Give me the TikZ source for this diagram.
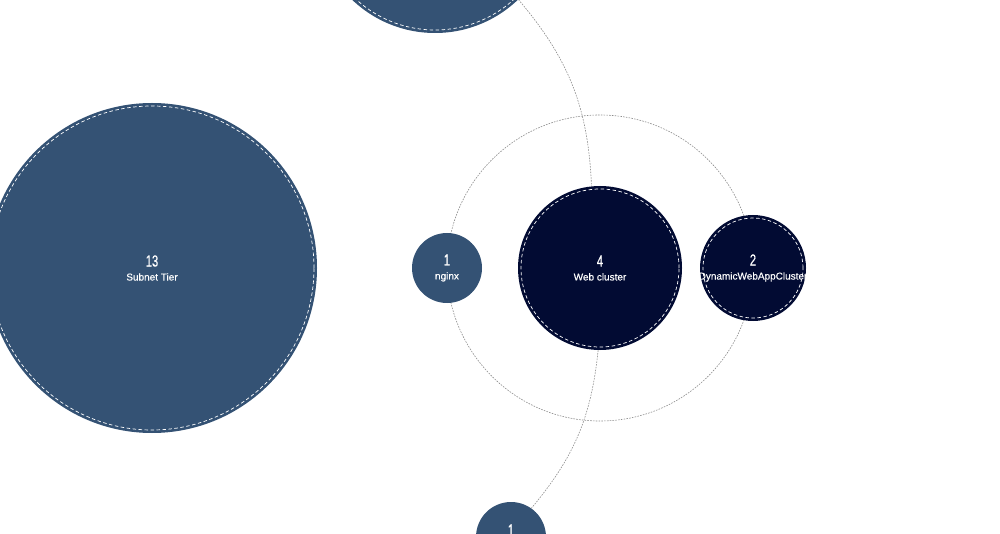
\documentclass[tikz,border=0pt]{standalone}
\usepackage{fontspec}
\setmainfont{Liberation Sans}[FakeBold=0.35]
\newfontfamily\numfont[FakeStretch=0.7,FakeBold=0.6]{Liberation Sans}
\definecolor{tierblue}{HTML}{345274}
\definecolor{clusternavy}{HTML}{020B33}
\newcommand{\cnt}[1]{{\numfont\fontsize{16}{14}\selectfont #1}}
\tikzset{
  grp/.style={circle, inner sep=0pt, text=white, align=center, font=\fontsize{10}{14}\selectfont},
  tier/.style={grp, fill=tierblue},
  cluster/.style={grp, fill=clusternavy},
  ring/.style={white, dash pattern=on 3.5pt off 2.5pt, line width=0.7pt},
  orbit/.style={gray!90, dash pattern=on 1.6pt off 1.2pt, line width=0.6pt},
}
\begin{document}
\begin{tikzpicture}[x=1pt,y=-1pt]
				\useasboundingbox (0,0) rectangle (1000,534);
				\clip (0,0) rectangle (1000,534);
				\coordinate (hub) at (600,268);
				\draw[orbit] (hub) circle (153pt);
				\node [tier, minimum size=330pt, at={(152,268)}] (subnet) {\cnt{13}\\Subnet Tier};
				\node [tier, minimum size=240pt, at={(435,-87)}] (top) {};
				\node [cluster, minimum size=164pt, at={(hub)}] (web) {\cnt{4}\\Web cluster};
				\node [tier, minimum size=70pt, at={(447,268)}] (nginx) {\cnt{1}\\nginx};
				\node [cluster, minimum size=106pt, at={(753,268)}] (dwac) {\cnt{2}\\\makebox[0pt]{DynamicWebAppCluster}};
				\node [tier, minimum size=70pt, at={(511,537)}] (leaf) {\cnt{1}\\\mbox{}};
				\foreach \n/\r in {subnet/162,top/117,web/79,dwac/50}
					\draw[ring] (\n.center) circle (\r pt);
				\draw[orbit] (top) to[bend left=19] (web);
				\draw[orbit] (web) to[bend left=17] (leaf);
				\end{tikzpicture}
\end{document}
